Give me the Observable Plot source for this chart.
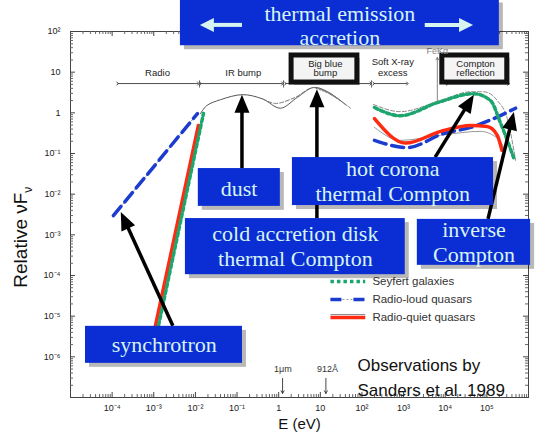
<!DOCTYPE html>
<html><head><meta charset="utf-8">
<script src="https://cdn.jsdelivr.net/npm/d3@7"></script>
<script src="https://cdn.jsdelivr.net/npm/@observablehq/plot@0.6"></script>
<style>body{margin:0;background:#fff} #chart svg{display:block}</style>
</head><body><div id="chart"></div>
<script>
// ---------- data (E in eV, relative nuF_nu) ----------
// Radio-loud quasars (blue dashed)
const loudRadioE = [1.07e-4, 0.0112];
const loudRadioF = [2.95e-3, 0.96];
const loudXE = [200, 1230, 9100, 4.1e4, 1.45e5, 4.9e5];
const loudXF = [0.21, 0.14, 0.31, 0.44, 0.72, 1.3];
// Radio-quiet quasars (red solid)
const quietRadioE = [1.1e-3, 0.0118];
const quietRadioF = [5.9e-6, 0.49];
const quietXE = [200, 1120, 7800, 4.1e4, 1.02e5, 1.78e5, 2.3e5];
const quietXF = [0.72, 0.18, 0.35, 0.49, 0.46, 0.28, 0.12];
// Seyfert galaxies (green dotted)
const seyfRadioE = [1.3e-3, 0.0156];
const seyfRadioF = [5.9e-6, 0.96];
const seyfXE = [200, 830, 6500, 4.8e4, 1.23e5, 2.1e5, 3.1e5, 4.4e5];
const seyfXF = [1.35, 0.85, 1.78, 2.95, 2.0, 0.58, 0.21, 0.079];
// original (gray) curves: IR bump + big blue bump
const irE = [0.0132, 0.0186, 0.040, 0.135, 0.41, 1.1, 2.8, 6.9, 15.8, 40];
const irF = [0.95, 1.5, 2.1, 2.8, 2.2, 1.3, 2.4, 4.2, 3.2, 1.6];
const irAltE = [0.41, 0.83, 2.5, 6.9, 23, 53];
const irAltF = [2.2, 1.7, 2.4, 4.2, 2.4, 1.3];
const irDotE = [6.9, 16, 30];
const irDotF = [4.2, 3.0, 2.0];
// original gray X-ray curves
const refUpperE = [190, 830, 7600, 4.1e4, 8.3e4, 1.78e5, 3.1e5, 4.9e5];
const refUpperF = [1.6, 1.07, 2.0, 3.3, 3.3, 2.0, 0.72, 0.068];
const refLowerE = [200, 830, 7600, 6.9e4, 1.86e5, 2.75e5];
const refLowerF = [0.44, 0.21, 0.28, 0.35, 0.23, 0.12];

// ticks
const xTickValues = [1e-4, 1e-3, 1e-2, 1e-1, 1, 10, 1e2, 1e3, 1e4, 1e5];
const xTickLabels = ["10⁻⁴", "10⁻³", "10⁻²", "10⁻¹", "1", "10", "10²", "10³", "10⁴", "10⁵"];
const yTickValues = [1e-6, 1e-5, 1e-4, 1e-3, 1e-2, 1e-1, 1, 10, 1e2];
const yTickLabels = ["10⁻⁶", "10⁻⁵", "10⁻⁴", "10⁻³", "10⁻²", "10⁻¹", "1", "10", "10²"];

// legend
const legendLabels = ["Seyfert galaxies", "Radio-loud quasars", "Radio-quiet quasars"];

// region labels along the top (log10 E, log10 F)
const regionLabels = [
  {t: "Radio", x: -2.91, y: 0.97}, {t: "IR bump", x: -0.85, y: 0.97},
  {t: "Big blue", x: 1.12, y: 1.21}, {t: "bump", x: 1.12, y: 0.97},
  {t: "Soft X-ray", x: 2.74, y: 1.24}, {t: "excess", x: 2.74, y: 0.99},
  {t: "Compton", x: 4.73, y: 1.21}, {t: "reflection", x: 4.73, y: 0.97}
];
const regionSpans = [[-3.87, -1.93], [-1.88, 0.09], [0.16, 2.21], [2.28, 3.09], [4.05, 5.52]];
const regionSeps = [-1.90, 0.115, 2.23];
const framedRegions = [{x1: 0.31, x2: 1.89}, {x1: 3.93, x2: 5.49}];

// blue annotation boxes (log10 units)
const boxes = [
  {x1: -2.36, x2: 5.30, y1: 1.65, y2: 2.8},
  {x1: -1.93, x2: 0.04, y1: -2.30, y2: -1.37},
  {x1: -2.24, x2: 3.04, y1: -3.98, y2: -2.60},
  {x1: 0.33, x2: 5.16, y1: -2.28, y2: -1.10},
  {x1: 3.33, x2: 6.05, y1: -3.75, y2: -2.62},
  {x1: -4.64, x2: -0.87, y1: -6.16, y2: -5.25}
];
// one entry per text line
const boxTexts = [
  {t: "thermal emission", x: 1.47, y: 2.44}, {t: "accretion", x: 1.47, y: 1.85},
  {t: "dust", x: -0.95, y: -1.86},
  {t: "cold accretion disk", x: 0.40, y: -2.98}, {t: "thermal Compton", x: 0.40, y: -3.60},
  {t: "hot corona", x: 2.74, y: -1.38}, {t: "thermal Compton", x: 2.74, y: -2.00},
  {t: "inverse", x: 4.69, y: -2.88}, {t: "Compton", x: 4.69, y: -3.50},
  {t: "synchrotron", x: -2.75, y: -5.72}
];
// black pointer arrows (log10 units): from -> tip
const pointers = [
  {x1: -2.53, y1: -5.25, x2: -3.78, y2: -2.45},
  {x1: -0.87, y1: -1.37, x2: -0.87, y2: 0.43},
  {x1: 0.93, y1: -2.60, x2: 0.93, y2: 0.57},
  {x1: 3.77, y1: -1.10, x2: 4.70, y2: 0.43},
  {x1: 5.04, y1: -2.62, x2: 5.66, y2: 0.01}
];
const topArrows = [
  {x1: -0.87, y1: 2.15, x2: -1.88, y2: 2.15},
  {x1: 3.52, y1: 2.15, x2: 4.68, y2: 2.15}
];

// ---------- helpers ----------
const p = v => 10 ** v;
const pts = (E, F) => E.map((e, i) => ({E: e, F: F[i]}));

const xMinor = [], yMinor = [];
for (let d = -5; d <= 5; d++) for (let k = 2; k <= 9; k++) xMinor.push(k * 10 ** d);
for (let d = -7; d <= 1; d++) for (let k = 2; k <= 9; k++) yMinor.push(k * 10 ** d);
const xMajor = [1e-5, ...xTickValues, 1e6];
const yMajor = [1e-7, ...yTickValues];

function arrowMark(data, color, width, headL, headW) {
  return (index, scales) => {
    const g = d3.create("svg:g");
    for (const a of data) {
      const x1 = scales.x(p(a.x1)), y1 = scales.y(p(a.y1));
      const x2 = scales.x(p(a.x2)), y2 = scales.y(p(a.y2));
      const ang = Math.atan2(y2 - y1, x2 - x1);
      const c = Math.cos(ang), s = Math.sin(ang);
      const bx = x2 - headL * c, by = y2 - headL * s;
      g.append("line").attr("x1", x1).attr("y1", y1).attr("x2", bx + 2 * c).attr("y2", by + 2 * s)
        .attr("stroke", color).attr("stroke-width", width);
      g.append("path")
        .attr("d", `M${x2},${y2}L${bx + headW * s},${by - headW * c}L${bx - headW * s},${by + headW * c}Z`)
        .attr("fill", color);
    }
    return g.node();
  };
}

// y-axis title with a real subscript
function yTitle(index, scales, values, dims) {
  const t = d3.create("svg:text")
    .attr("transform", `translate(${dims.marginLeft - 50},${scales.y(p(-3.07))}) rotate(-90)`)
    .attr("text-anchor", "middle").attr("dy", "0.35em")
    .attr("font-size", 19).attr("fill", "#111");
  t.append("tspan").text("Relative νF");
  t.append("tspan").attr("font-size", 12).attr("dy", 5).text("ν");
  return t.node();
}

const serif = "'Liberation Serif','Times New Roman',serif";
const BLUE = "#1c3cd0", RED = "#ff2a12", GREEN = "#1ca56c";
const BOX = "#0b2ed4", BOXTEXT = "#d6f4f2";

const legendY = [p(-4.15), p(-4.59), p(-5.03)];
const boxPos = {x1: d => p(d.x1), x2: d => p(d.x2), y1: d => p(d.y1), y2: d => p(d.y2)};

const chart = Plot.plot({
  width: 545, height: 438,
  marginLeft: 70, marginRight: 17, marginTop: 31, marginBottom: 41,
  x: {type: "log", domain: [1e-5, 1e6], axis: null},
  y: {type: "log", domain: [1e-7, 1e2], axis: null},
  style: {fontFamily: "'Liberation Sans', Arial, sans-serif", background: "#fff", overflow: "visible"},
  marks: [
    Plot.frame({stroke: "#444"}),
    // ticks on all sides
    Plot.tickX(xMajor, {x: d => d, insetTop: 361, stroke: "#444"}),
    Plot.tickX(xMajor, {x: d => d, insetBottom: 361, stroke: "#444"}),
    Plot.tickX(xMinor, {x: d => d, insetTop: 363, stroke: "#666"}),
    Plot.tickX(xMinor, {x: d => d, insetBottom: 363, stroke: "#666"}),
    Plot.tickY(yMajor, {y: d => d, insetRight: 453, stroke: "#444"}),
    Plot.tickY(yMajor, {y: d => d, insetLeft: 453, stroke: "#444"}),
    Plot.tickY(yMinor, {y: d => d, insetRight: 455, stroke: "#666"}),
    Plot.tickY(yMinor, {y: d => d, insetLeft: 455, stroke: "#666"}),
    Plot.axisX(xTickValues, {tickSize: 0, tickPadding: 7, fontSize: 9, fill: "#222",
      tickFormat: d => xTickLabels[xTickValues.indexOf(d)], label: null}),
    Plot.axisY(yTickValues, {tickSize: 0, tickPadding: 10, fontSize: 9, fill: "#222",
      tickFormat: d => yTickLabels[yTickValues.indexOf(d)], label: null}),
    Plot.text(["E (eV)"], {frameAnchor: "bottom", dy: 31, fontSize: 15, fill: "#111"}),
    yTitle,

    // top region labels
    Plot.link(regionSpans, {x1: d => p(d[0]), x2: d => p(d[1]), y1: p(0.72), y2: p(0.72),
      stroke: "#222", strokeWidth: 0.8, markerStart: "arrow", markerEnd: "arrow"}),
    Plot.link(regionSeps, {x1: d => p(d), x2: d => p(d), y1: p(0.62), y2: p(0.80), stroke: "#444", strokeWidth: 0.8}),
    Plot.rect(framedRegions, {x1: d => p(d.x1), x2: d => p(d.x2), y1: p(0.745), y2: p(1.41),
      fill: "#000", fillOpacity: 0.25, dx: 3, dy: 3}),
    Plot.rect(framedRegions, {x1: d => p(d.x1), x2: d => p(d.x2), y1: p(0.745), y2: p(1.41),
      fill: "#f4f4f4", stroke: "#111", strokeWidth: 5}),
    Plot.text(regionLabels, {x: d => p(d.x), y: d => p(d.y), text: "t", fontSize: 9.5, fill: "#222"}),
    Plot.arrow([0], {x1: p(3.81), x2: p(3.81), y1: p(0.23), y2: p(1.36), stroke: "#666", strokeWidth: 0.8, headLength: 5}),
    Plot.text(["FeKα"], {x: p(3.81), y: p(1.51), fontSize: 9, fill: "#888"}),

    // original gray curves
    Plot.line(pts(irE, irF), {x: "E", y: "F", stroke: "#555", strokeWidth: 1, curve: "catmull-rom"}),
    Plot.line(pts(irAltE, irAltF), {x: "E", y: "F", stroke: "#777", strokeWidth: 1, strokeDasharray: "4,2", curve: "catmull-rom"}),
    Plot.line(pts(irDotE, irDotF), {x: "E", y: "F", stroke: "#777", strokeWidth: 1, strokeDasharray: "1.5,1.5", curve: "catmull-rom"}),
    Plot.line(pts(refUpperE, refUpperF), {x: "E", y: "F", stroke: "#888", strokeWidth: 1, strokeDasharray: "4,2", curve: "monotone-x"}),
    Plot.line(pts(refLowerE, refLowerF), {x: "E", y: "F", stroke: "#999", strokeWidth: 1, curve: "monotone-x"}),
    Plot.line(pts(loudRadioE, loudRadioF), {x: "E", y: "F", stroke: "#999", strokeWidth: 1, strokeDasharray: "4,2,1,2"}),

    // coloured SEDs
    Plot.line(pts(loudRadioE, loudRadioF), {x: "E", y: "F", stroke: BLUE, strokeWidth: 3.5, strokeDasharray: "12,6"}),
    Plot.line(pts(loudXE, loudXF), {x: "E", y: "F", stroke: BLUE, strokeWidth: 3.5, strokeDasharray: "12,6", curve: "monotone-x"}),
    Plot.line(pts(quietRadioE, quietRadioF), {x: "E", y: "F", stroke: RED, strokeWidth: 3.5}),
    Plot.line(pts(quietXE, quietXF), {x: "E", y: "F", stroke: RED, strokeWidth: 3.5, curve: "monotone-x"}),
    Plot.line(pts(seyfRadioE, seyfRadioF), {x: "E", y: "F", stroke: GREEN, strokeWidth: 3.5, strokeDasharray: "3.5,3"}),
    Plot.line(pts(seyfXE, seyfXF), {x: "E", y: "F", stroke: GREEN, strokeWidth: 3.5, strokeDasharray: "3.5,3", curve: "monotone-x"}),

    // legend
    Plot.link([0], {x1: 17.5, x2: 120, y1: legendY[0], y2: legendY[0], stroke: GREEN, strokeWidth: 3.5, strokeDasharray: "3.5,3"}),
    Plot.link([0], {x1: 17.5, x2: 120, y1: legendY[1], y2: legendY[1], stroke: "#999", strokeWidth: 1, strokeDasharray: "2,2"}),
    Plot.link([0], {x1: 17.5, x2: 120, y1: legendY[1], y2: legendY[1], stroke: BLUE, strokeWidth: 3.5, strokeDasharray: "11,12"}),
    Plot.link([0], {x1: 17.5, x2: 120, y1: p(-4.96), y2: p(-4.96), stroke: "#888", strokeWidth: 1}),
    Plot.link([0], {x1: 17.5, x2: 120, y1: legendY[2], y2: legendY[2], stroke: RED, strokeWidth: 3.5}),
    Plot.text(legendLabels, {x: 178, y: (d, i) => legendY[i], textAnchor: "start", fontSize: 11.5, fill: "#333"}),

    // wavelength markers
    Plot.arrow([1.24, 13.6], {x1: d => d, x2: d => d, y1: p(-6.53), y2: p(-6.90), stroke: "#333", strokeWidth: 0.9, headLength: 5}),
    Plot.text(["1μm", "912Å"], {x: (d, i) => [1.26, 14.8][i], y: p(-6.29), fontSize: 9, fill: "#333"}),
    Plot.text(["Observations by", "Sanders et al. 1989"], {x: 78, y: (d, i) => [p(-6.21), p(-6.83)][i],
      textAnchor: "start", fontSize: 17, fill: "#111"}),

    // pointer arrows (under the boxes)
    arrowMark(pointers, "#000", 3.5, 18, 7.5),

    // annotation boxes
    Plot.rect(boxes, {...boxPos, fill: "#000", fillOpacity: 0.28, dx: 4, dy: 4}),
    Plot.rect(boxes, {...boxPos, fill: BOX}),
    Plot.text(boxTexts, {x: d => p(d.x), y: d => p(d.y), text: "t", fontFamily: serif, fontSize: 22, fill: BOXTEXT}),
    arrowMark(topArrows, BOXTEXT, 4, 14, 7)
  ]
});
document.getElementById("chart").append(chart);
</script>
</body></html>
